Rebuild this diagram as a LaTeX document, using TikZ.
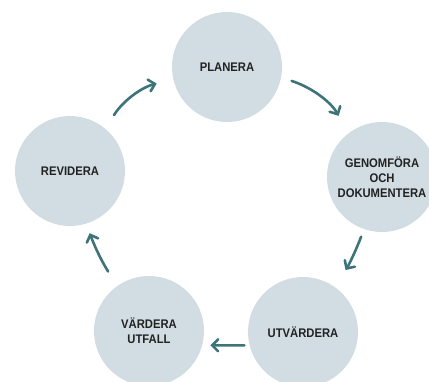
\documentclass[tikz,border=0pt]{standalone}
\usepackage{fontspec}
\setmainfont[FakeStretch=0.9]{Liberation Sans}
\usetikzlibrary{arrows.meta}
\definecolor{stagefill}{HTML}{D2DDE3}
\definecolor{flowcol}{HTML}{3E7479}
\definecolor{ink}{HTML}{222222}

\begin{document}
\begin{tikzpicture}[x=1pt,y=-1pt,
	stage/.style={circle,fill=stagefill,minimum size=110pt,inner sep=0pt,align=center,
		font=\bfseries\fontsize{12.5}{15}\selectfont,text=ink},
	flow/.style={draw=flowcol,line width=2.6pt,line cap=round,
		-{Straight Barb[length=6pt,width=12pt,line cap=round]}}]

	\clip (0,0) rectangle (429,381);

	\node[stage] (plan) at (227,67) {PLANERA};
	\node[stage] (genom) at (382,177) {GENOMFÖRA\\OCH\\DOKUMENTERA};
	\node[stage] (utv) at (303,332) {UTVÄRDERA};
	\node[stage] (vard) at (149,331) {VÄRDERA\\UTFALL};
	\node[stage] (rev) at (70,171) {REVIDERA};

	\draw[flow,shorten <=16pt,shorten >=17pt] (rev.50) to[bend left=22] (plan.193);
	\draw[flow,shorten <=11pt,shorten >=20pt] (plan.-11) to[bend left=22] (genom.128);
	\draw[flow,shorten <=8pt,shorten >=20pt] (genom.251) to[bend left=6] (utv.55);
	\draw[flow,shorten <=5pt,shorten >=8pt] (utv.194) -- (vard.-15);
	\draw[flow,shorten <=17pt,shorten >=10pt] (vard.125) to[bend left=6] (rev.-73);
\end{tikzpicture}
\end{document}
